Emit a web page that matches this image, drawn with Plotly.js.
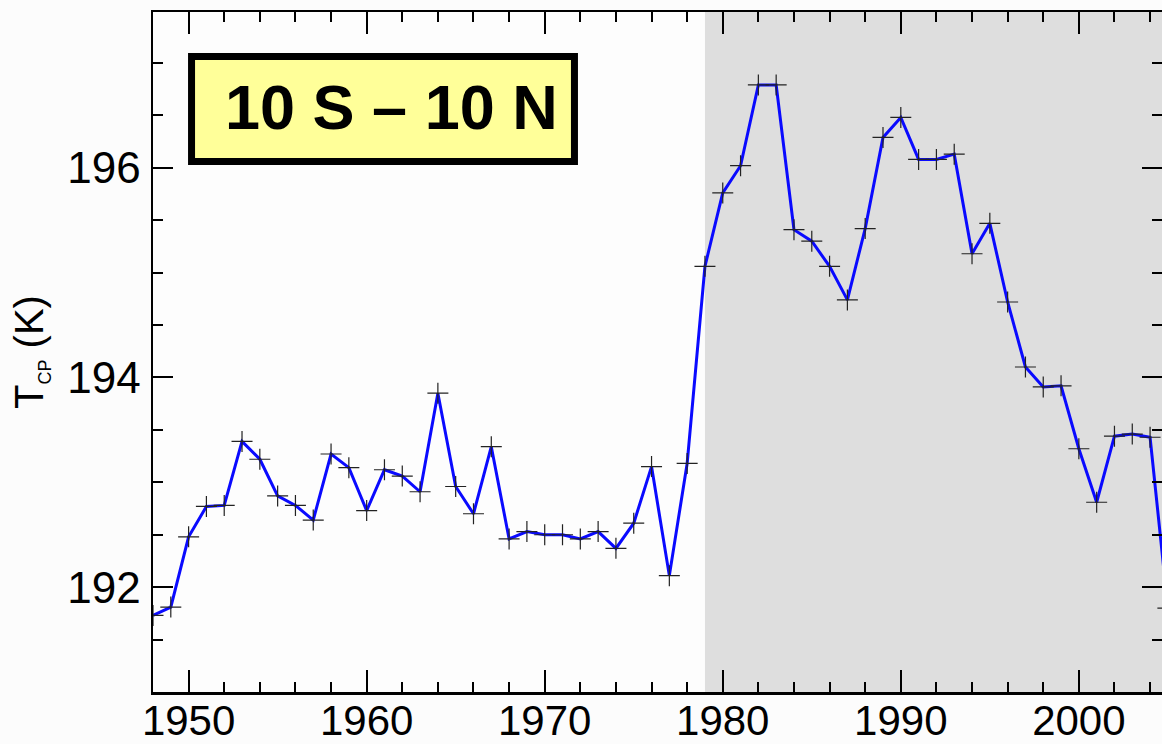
<!DOCTYPE html>
<html>
<head>
<meta charset="utf-8">
<script src="https://cdn.plot.ly/plotly-3.0.1.min.js"></script>
<style>
  html, body { margin: 0; padding: 0; background: #fcfcfc; }
  #chart { width: 1162px; height: 744px; }
</style>
</head>
<body>
<div id="chart"></div>
<script>
// ---- data ----
const years = [1948,1949,1950,1951,1952,1953,1954,1955,1956,1957,
               1958,1959,1960,1961,1962,1963,1964,1965,1966,1967,
               1968,1969,1970,1971,1972,1973,1974,1975,1976,1977,
               1978,1979,1980,1981,1982,1983,1984,1985,1986,1987,
               1988,1989,1990,1991,1992,1993,1994,1995,1996,1997,
               1998,1999,2000,2001,2002,2003,2004,2005];
const tcp = [191.73,191.81,192.48,192.77,192.78,193.39,193.22,192.87,192.78,192.64,
             193.27,193.14,192.73,193.12,193.06,192.91,193.85,192.96,192.70,193.34,
             192.46,192.53,192.50,192.50,192.46,192.53,192.37,192.61,193.15,192.11,
             193.18,195.06,195.76,196.02,196.79,196.79,195.41,195.30,195.06,194.74,
             195.42,196.29,196.48,196.08,196.08,196.13,195.18,195.47,194.72,194.10,
             193.91,193.92,193.32,192.81,193.44,193.46,193.43,191.80];
const shadeStartYear = 1979;
const xTickVals = [1950, 1960, 1970, 1980, 1990, 2000];
const yTickVals = [192, 194, 196];
const regionLabel = "10 S \u2013 10 N";
const yTitle = "T<sub><span style=\"font-size:18px\">CP</span></sub> (K)";

const xRange = [1948, 2004.67];
const yRange = [191, 197.486];

const FONT = 'Liberation Sans, Arial, Helvetica, sans-serif';

const trace = {
  x: years,
  y: tcp,
  type: 'scatter',
  mode: 'lines+markers',
  line: { color: '#0a0aff', width: 3 },
  marker: { symbol: 'cross-thin', size: 15, color: '#222', line: { color: '#222', width: 1.2 } },
  hoverinfo: 'x+y'
};

const axisCommon = {
  showline: true, linecolor: '#000', linewidth: 2.5,
  ticks: 'inside', tickcolor: '#000', tickwidth: 2,
  mirror: 'allticks', showgrid: false, zeroline: false
};

const layout = {
  width: 1162, height: 744,
  margin: { l: 153, r: 0, t: 12, b: 52 },
  paper_bgcolor: '#fcfcfc',
  plot_bgcolor: '#fdfdfd',
  showlegend: false,
  xaxis: Object.assign({}, axisCommon, {
    range: xRange, tickmode: 'array', tickvals: xTickVals,
    ticklen: 22, ticklabelstandoff: -10,
    tickfont: { family: FONT, size: 42, color: '#000' },
    minor: { dtick: 2, tick0: 1950, ticks: 'inside', ticklen: 10, tickwidth: 2, tickcolor: '#000', showgrid: false }
  }),
  yaxis: Object.assign({}, axisCommon, {
    range: yRange, tickmode: 'array', tickvals: yTickVals,
    ticklen: 20, ticklabelstandoff: 1,
    tickfont: { family: FONT, size: 44, color: '#000' },
    minor: { dtick: 0.5, tick0: 191, ticks: 'inside', ticklen: 10, tickwidth: 2, tickcolor: '#000', showgrid: false },
    title: { text: yTitle, standoff: 12,
             font: { family: FONT, size: 40, color: '#000' } }
  }),
  shapes: [
    { type: 'rect', xref: 'x', yref: 'paper', x0: shadeStartYear, x1: xRange[1], y0: 0, y1: 1,
      fillcolor: '#dedede', line: { width: 0 }, layer: 'below' },
    { type: 'rect', xref: 'paper', yref: 'paper', x0: 0.0382, x1: 0.4177, y0: 0.7801, y1: 0.9346,
      fillcolor: '#ffff99', line: { color: '#000', width: 7 }, layer: 'above' }
  ],
  annotations: [
    { xref: 'paper', yref: 'paper', x: 0.2359, y: 0.861, xanchor: 'center', yanchor: 'middle',
      showarrow: false, text: regionLabel,
      font: { family: FONT, size: 63, weight: 'bold', color: '#000' } }
  ]
};

Plotly.newPlot('chart', [trace], layout, { displayModeBar: false, staticPlot: true });
</script>
</body>
</html>
